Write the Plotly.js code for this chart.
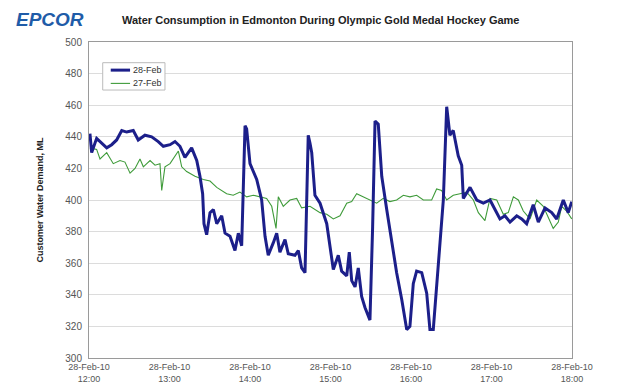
<!DOCTYPE html>
<html>
<head>
<meta charset="utf-8">
<script src="https://cdn.plot.ly/plotly-3.0.1.min.js"></script>
<style>html,body{margin:0;padding:0;background:#fff;}#chart{width:624px;height:390px;}</style>
</head>
<body>
<div id="chart"></div>
<script>
// Minutes after 12:00 on 28-Feb-2010 and demand (ML)
const feb28Minutes = [0.7,2,5.7,9.5,13.2,16.9,20.6,24.4,28.1,33,36.7,41.7,46.7,51.6,55.4,60.4,64.1,67.8,71.5,76.5,80.3,82.7,84.7,85.7,87.7,90.2,92.7,95.2,98.9,101.4,105.1,108.8,111.3,113.8,116.3,117.5,120,125,128.7,131.2,133.6,137.4,139.9,142.3,146.1,148.5,153.5,156,158.5,161,163.4,164.7,166,168.4,172.2,177.2,182.1,185.8,188.3,192.1,194,195.8,198.3,200.7,203.2,205.7,209.4,211.4,213.2,215.6,218.2,221.9,225.6,229.3,233.1,236.8,239.2,241.7,244.2,248,251.7,254.1,256.6,259.1,261.6,264.1,266.6,269,271.5,275.2,277.8,279,284,289,293.9,298.9,302.6,306.3,310,313.8,318.8,322.5,326.2,331.1,334.9,339.9,344.9,348.6,353.5,357.2,359.8];
const feb28Values = [442,430,439,436,433,435,438,444,443,444,438,441,440,437,434,435,437,434,427,433,425,415,404,385,378,392,394,385,390,379,377,368,379,371,447,445,423,413,400,377,365,373,379,367,375,366,365,368,357,354,441,436,430,403,398,385,356,365,355,352,367,349,345,357,339,332,324,383,450,448,415,394,373,354,337,318,320,347,355,354,341,318,318,345,375,400,459,441,444,428,422,401,408,400,398,400,394,388,390,386,390,388,385,397,386,395,392,388,400,392,399];

const feb27Minutes = [0.7,5.7,8.2,13.2,18.1,23.1,26.8,30.6,34.3,38,40.5,45.5,49.2,52.9,54.2,56.6,60.4,66.6,69.1,72.8,79,85.2,90.2,95.2,102.6,107.5,112.5,117.5,122.5,127.4,132.4,136.2,139.4,141.1,144.8,149.8,154.8,158.5,164.7,172.2,177.2,182.1,187.1,192.1,195.8,199.5,204.4,209.4,214.4,219.3,224.3,229.3,234.3,239.2,244.2,249.2,255.4,259.1,262.8,266.6,271.5,276.5,281.5,286.5,290.2,295.1,298.9,303.9,308.8,312.5,316.3,320,323.7,328.7,333.7,338.6,343.6,346,349.8,352.3,356,359.8];
const feb27Values = [433,432,426,430,423,425,424,417,420,426,421,425,422,423,406,421,423,431,421,418,415,413,412,408,404,403,405,402,403,402,401,396,382,402,396,400,401,395,396,392,391,388,390,398,399,404,402,400,398,401,399,400,403,402,403,400,400,407,406,400,403,404,405,400,392,387,401,400,391,392,402,400,393,388,400,396,387,382,386,396,393,388];

const seriesNames = ["28-Feb", "27-Feb"];
const tickTimes = ["2010-02-28 12:00","2010-02-28 13:00","2010-02-28 14:00","2010-02-28 15:00","2010-02-28 16:00","2010-02-28 17:00","2010-02-28 18:00"];
const tickLabels = ["28-Feb-10<br>12:00","28-Feb-10<br>13:00","28-Feb-10<br>14:00","28-Feb-10<br>15:00","28-Feb-10<br>16:00","28-Feb-10<br>17:00","28-Feb-10<br>18:00"];
const yTicks = [300,320,340,360,380,400,420,440,460,480,500];

const BLUE = "#1c1f8a", GREEN = "#3f9b3a";

function toDate(m) {
  const total = Math.round(m * 60);
  const h = 12 + Math.floor(total / 3600);
  const mi = Math.floor((total % 3600) / 60);
  const s = total % 60;
  const p = n => String(n).padStart(2, "0");
  return "2010-02-28 " + p(h) + ":" + p(mi) + ":" + p(s);
}

const traces = [
  {x: feb27Minutes.map(toDate), y: feb27Values, name: seriesNames[1], type: "scatter", mode: "lines",
   line: {color: GREEN, width: 1.1}},
  {x: feb28Minutes.map(toDate), y: feb28Values, name: seriesNames[0], type: "scatter", mode: "lines",
   line: {color: BLUE, width: 3}}
];

const FONT = "Liberation Sans, Arial, sans-serif";

const layout = {
  width: 624, height: 390,
  margin: {l: 89, r: 52, t: 42, b: 32},
  paper_bgcolor: "#fff", plot_bgcolor: "#fff",
  font: {family: FONT, color: "#555"},
  showlegend: false,
  xaxis: {type: "date", range: [tickTimes[0], tickTimes[tickTimes.length-1]],
    tickmode: "array", tickvals: tickTimes, ticktext: tickLabels,
    showgrid: false, zeroline: false, showline: true, mirror: true, linecolor: "#9a9a9a", linewidth: 1,
    ticks: "", tickfont: {size: 9, color: "#555"}},
  yaxis: {range: [300, 500], tickmode: "array", tickvals: yTicks,
    showgrid: true, gridcolor: "#dcdcdc", gridwidth: 1, zeroline: false,
    showline: true, mirror: true, linecolor: "#9a9a9a", linewidth: 1,
    ticks: "", ticklabelstandoff: 4, tickfont: {size: 10, color: "#555"},
    title: {text: "Customer Water Demand, ML", standoff: 20,
      font: {size: 9, color: "#222", family: FONT, weight: "bold"}}},
  shapes: [
    {type: "rect", xref: "paper", yref: "paper", x0: 0.0284, x1: 0.1573, y0: 0.848, y1: 0.9345,
     line: {color: "#bbb", width: 1}, fillcolor: "#fff", layer: "above"},
    {type: "line", xref: "paper", yref: "paper", x0: 0.045, x1: 0.085, y0: 0.911, y1: 0.911,
     line: {color: BLUE, width: 3}, layer: "above"},
    {type: "line", xref: "paper", yref: "paper", x0: 0.045, x1: 0.085, y0: 0.869, y1: 0.869,
     line: {color: GREEN, width: 1.1}, layer: "above"}
  ],
  annotations: [
    {text: "<b><i>EPCOR</i></b>", xref: "paper", yref: "paper", x: -0.155, y: 1.07,
     xanchor: "left", yanchor: "middle", showarrow: false,
     font: {size: 19, color: "#1f5ca8", family: FONT}},
    {text: "<b>Water Consumption in Edmonton During Olympic Gold Medal Hockey Game</b>",
     xref: "paper", yref: "paper", x: 0.065, y: 1.07, xanchor: "left", yanchor: "middle", showarrow: false,
     font: {size: 11, color: "#222", family: FONT}},
    {text: seriesNames[0], xref: "paper", yref: "paper", x: 0.086, y: 0.911, xanchor: "left", yanchor: "middle",
     showarrow: false, font: {size: 9, color: "#333", family: FONT}},
    {text: seriesNames[1], xref: "paper", yref: "paper", x: 0.086, y: 0.869, xanchor: "left", yanchor: "middle",
     showarrow: false, font: {size: 9, color: "#333", family: FONT}}
  ]
};

Plotly.newPlot("chart", traces, layout, {displayModeBar: false, staticPlot: true});
</script>
</body>
</html>
